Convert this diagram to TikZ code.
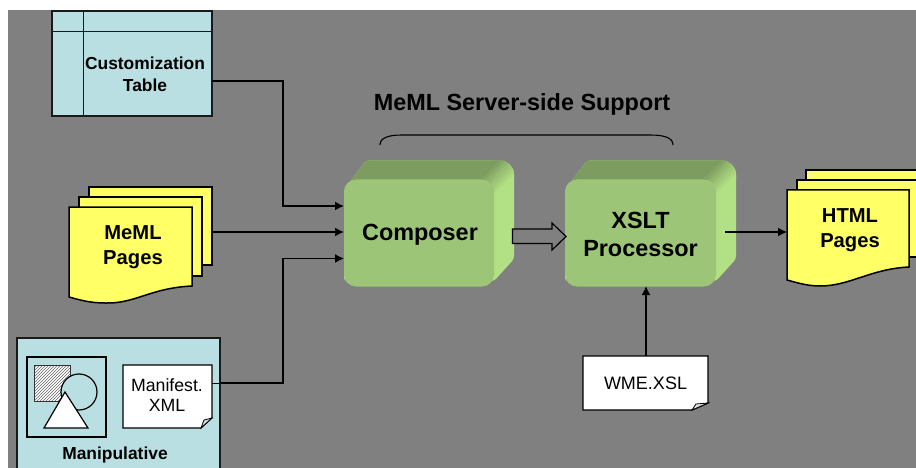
\documentclass[tikz,border=0pt]{standalone}
\usepackage{fontspec}
\setmainfont{Liberation Sans}
\usetikzlibrary{arrows.meta,patterns}
\definecolor{bggrey}{HTML}{808080}
\definecolor{paleblue}{HTML}{BADFE2}
\definecolor{docyellow}{HTML}{FFFF66}
\definecolor{front}{HTML}{9DC577}
\definecolor{topface}{HTML}{7D9C60}
\definecolor{sideface}{HTML}{B2E084}
\tikzset{
  x=1pt,y=-1pt,
  conn/.style={draw=black,line width=1.5pt,-{Latex[length=9pt,width=9pt]}},
  panel/.style={draw=black!90,fill=paleblue,line width=1.6pt,inner sep=0pt,outer sep=0pt,anchor=north west},
  docpage/.style={draw=black,fill=docyellow,line width=1.5pt,line join=miter},
  whitedoc/.style={draw=black,fill=white,line width=1.4pt},
  blocklabel/.style={font=\fontsize{23.4}{28}\selectfont\bfseries,align=center,inner sep=0pt},
  pagelabel/.style={font=\fontsize{20.2}{24.5}\selectfont\bfseries,align=center,inner sep=0pt},
  smallbold/.style={font=\fontsize{17.4}{22}\selectfont\bfseries,align=center,inner sep=0pt},
  smallreg/.style={font=\fontsize{17.7}{20}\selectfont,align=center,inner sep=0pt},
}
\newcommand{\greenblock}[3]{% name, left x, width of front
  \begin{scope}[shift={(#2,0)}]
    \begin{scope}
      \clip[rounded corners=3] (0,190) -- (22,160.5) [rounded corners=14] -- (#3+20,160.5) [rounded corners=3] -- (#3+20,259) -- (#3,281) -- (0,281) -- cycle;
      \fill[sideface] (0,150) rectangle (#3+25,290);
      \fill[topface] (0,195) -- (0,150) -- (#3+15,150) -- (#3-8,195) -- cycle;
      \foreach \t/\p in {-9/0,-7/12,-5/25,-3/38,-1/50,1/62,3/75,5/88,7/100}{
        \fill[sideface!\p!topface] (#3-6+\t,186+\t) -- (#3+18+\t,162+\t) -- (#3+20+\t,164+\t) -- (#3-4+\t,188+\t) -- cycle;
      }
    \end{scope}
    \node[minimum width=#3,minimum height=107,fill=front,rounded corners=12,anchor=north west,inner sep=0pt,outer sep=0pt] (#1) at (0,179.5) {};
  \end{scope}
}
\begin{document}
\begin{tikzpicture}
\useasboundingbox (0,0) rectangle (916,468);
\fill[white] (0,0) rectangle (916,468);
\fill[bggrey] (8,10) rectangle (916,468);

% Customization table
\node[panel,minimum width=160,minimum height=105] (table) at (52,11) {};
\draw[black!90,line width=1.1pt] (83.5,11) -- (83.5,116) (52,31.5) -- (212,31.5);
\node[smallbold] (tablelabel) at (145,74) {Customization\\Table};
\coordinate (tableout) at (212,81);
\coordinate (tablein) at (344,206);

% MeML pages
\path[docpage] (89,187) rectangle (212,265);
\path[docpage] (79,197) rectangle (202,276);
\path[docpage] (69,207) -- (192,207) -- (192,286)
  .. controls (150,288) and (135,304) .. (105,303)
  .. controls (90,303) and (80,300) .. (69,297) -- cycle;
\node[pagelabel] (memllabel) at (133,247) {MeML\\Pages};
\coordinate (memlout) at (212,232);
\coordinate (memlin) at (344,232);

% Manipulative
\node[panel,minimum width=203,minimum height=140] (manip) at (17,338) {};
\node[draw=black,line width=1.5pt,minimum width=79,minimum height=80,inner sep=0pt,anchor=north west] (inner) at (26,356) {};
\node[fill=white,minimum width=36,minimum height=36,inner sep=0pt,anchor=north west] (squarebg) at (34,365) {};
\node[draw=black!80,line width=1pt,pattern=north east lines,pattern color=black!60,minimum width=36,minimum height=36,inner sep=0pt,anchor=north west] (square) at (34,365) {};
\node[draw=black,fill=paleblue,line width=1.2pt,circle,minimum size=36,inner sep=0pt] (circ) at (79,392) {};
\path[draw=black,fill=white,line width=1.2pt,line join=miter] (65,392) -- (44,428) -- (88,428) -- cycle;
\path[whitedoc,line width=1.1pt] (123,365) -- (212,365) -- (212,418) -- (201,428) -- (123,428) -- cycle;
\path[draw=black,fill=black!15,line width=.8pt] (201,428) -- (204,420) -- (212,418) -- cycle;
\node[smallreg] (manifest) at (167,395.5) {Manifest.\\XML};
\node[smallbold] (maniplabel) at (115,455) {Manipulative};
\coordinate (manifestout) at (212,383);
\coordinate (panelout) at (220,383);
\coordinate (manipin) at (344,258.5);

% Green blocks
\greenblock{composer}{344}{150}
\greenblock{xslt}{565}{151}
\node[blocklabel] (composerlabel) at (420,235) {Composer};
\node[blocklabel] (xsltlabel) at (640.5,234) {XSLT\\Processor};

% Brace and title
\coordinate (bl) at (380,145);
\coordinate (br) at (673,145);
\draw[black,line width=1.1pt] (bl) .. controls (380,138) and (388,135) .. (402,135) -- (650,135) .. controls (665,135) and (673,138) .. (br);
\node[font=\fontsize{23.4}{28}\selectfont\bfseries,inner sep=0pt] (title) at (522,104) {MeML Server-side Support};

% HTML pages
\path[docpage] (806,170) rectangle (930,250);
\path[docpage] (797,180) rectangle (919,257);
\path[docpage] (787,190) -- (909,190) -- (909,267)
  .. controls (870,269) and (850,286) .. (820,286)
  .. controls (808,286) and (798,283) .. (787,280) -- cycle;
\node[pagelabel] (htmllabel) at (850,230) {HTML\\Pages};
\coordinate (xsltout) at (725,232);
\coordinate (htmlin) at (787,232);

% WME
\path[whitedoc] (583,356) -- (708,356) -- (708,403) -- (692,410) -- (583,410) -- cycle;
\path[draw=black,fill=black!10,line width=.8pt] (692,410) -- (696,404) -- (708,403) -- cycle;
\node[smallreg,font=\fontsize{18}{20}\selectfont] (wme) at (645.5,383) {WME.XSL};
\coordinate (wmeout) at (646,356);
\coordinate (xsltin) at (646,286);

% Connectors
\draw[conn] (tableout) -| (283,206) -- (tablein);
\draw[conn] (memlout) -- (memlin);
\draw[black,line width=.9pt] (manifestout) -- (panelout);
\draw[conn] (panelout) -- (283,383) |- (manipin);
\draw[conn] (xsltout) -- (htmlin);
\draw[conn] (wmeout) -- (xsltin);

% Block arrow
\coordinate (ba) at (512.5,229);
\path[draw=black,fill=bggrey,line width=1.2pt,line join=miter] (ba) -- (552,229) -- (552,223) -- (566,236.5) -- (552,250) -- (552,243.5) -- (512.5,243.5) -- cycle;
\end{tikzpicture}
\end{document}
